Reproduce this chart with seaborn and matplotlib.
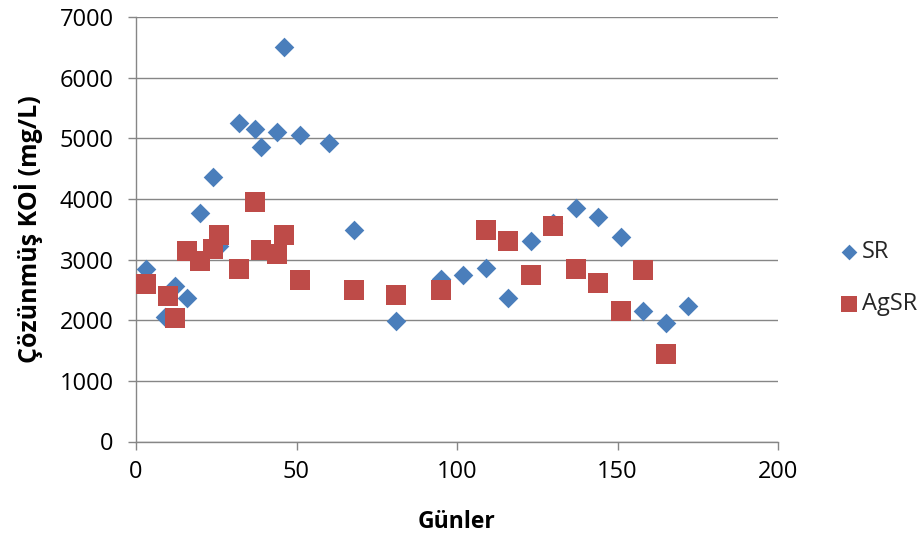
import matplotlib
matplotlib.use("Agg")
import matplotlib.pyplot as plt
import seaborn as sns
import pandas as pd

# Data
sr_days = [3, 9, 12, 16, 20, 24, 26, 32, 37, 39, 44, 46, 51, 60, 68, 81, 95, 102,
           109, 116, 123, 130, 137, 144, 151, 158, 165, 172]
sr_values = [2850, 2050, 2570, 2360, 3770, 4360, 3220, 5250, 5150, 4850, 5100, 6500,
             5050, 4920, 3490, 1990, 2680, 2740, 2860, 2360, 3300, 3600, 3850, 3700,
             3370, 2160, 1960, 2240]

agsr_days = [3, 10, 12, 16, 20, 24, 26, 32, 37, 39, 44, 46, 51, 68, 81, 95, 109, 116,
             123, 130, 137, 144, 151, 158, 165]
agsr_values = [2600, 2400, 2040, 3135, 2970, 3170, 3400, 2850, 3950, 3150, 3100, 3400,
               2670, 2490, 2420, 2490, 3480, 3300, 2750, 3550, 2850, 2620, 2145, 2820, 1450]

x_ticks = [0, 50, 100, 150, 200]
y_ticks = [0, 1000, 2000, 3000, 4000, 5000, 6000, 7000]

series_names = ["SR", "AgSR"]
x_label = "Günler"
y_label = "Çözünmüş KOİ (mg/L)"

sns.set_theme(style="white")
plt.rcParams["font.family"] = ["Open Sans", "DejaVu Sans"]

df_sr = pd.DataFrame({"day": sr_days, "value": sr_values})
df_ag = pd.DataFrame({"day": agsr_days, "value": agsr_values})

blue = "#4A7EBB"
red = "#BE4B48"
gray = "#868686"

fig = plt.figure(figsize=(9.2, 5.33), dpi=100)
ax = fig.add_axes([136 / 920, 1 - 441.5 / 533, 642 / 920, 424.5 / 533])

ax.set_axisbelow(True)
ax.grid(axis="y", color=gray, linewidth=1.0)
ax.grid(axis="x", visible=False)

sns.scatterplot(data=df_sr, x="day", y="value", marker="D", s=100, color=blue,
                linewidth=0, ax=ax, label=series_names[0], zorder=3)
sns.scatterplot(data=df_ag, x="day", y="value", marker="s", s=200, color=red,
                linewidth=0, ax=ax, label=series_names[1], zorder=3)

ax.set_xlim(0, 200)
ax.set_ylim(0, 7000)
ax.set_xticks(x_ticks)
ax.set_yticks(y_ticks)
ax.set_xticklabels([str(t) for t in x_ticks])
ax.set_yticklabels([str(t) for t in y_ticks])

for side in ["top", "right"]:
    ax.spines[side].set_visible(False)
for side in ["left", "bottom"]:
    ax.spines[side].set_color(gray)
    ax.spines[side].set_linewidth(1.0)

ax.tick_params(axis="both", which="major", direction="out", length=6, width=1.0,
               color=gray, labelsize=17, labelcolor="black")
ax.tick_params(axis="y", pad=10, left=True)
ax.tick_params(axis="x", pad=7, bottom=True)

ax.set_xlabel(x_label, fontsize=16.5, fontweight="bold", color="black")
ax.set_ylabel(y_label, fontsize=18, fontweight="bold", color="black")
ax.xaxis.set_label_coords(0.5, -0.162)
ax.yaxis.set_label_coords(-0.145, 0.5)

leg = ax.legend(loc="center left", bbox_to_anchor=(1.1, 0.385), frameon=False,
                fontsize=17, markerscale=0.8, handlelength=0.6, handletextpad=0.25,
                labelspacing=1.2, borderaxespad=0.0, borderpad=0.0)

fig.savefig("out.png", dpi=100)
